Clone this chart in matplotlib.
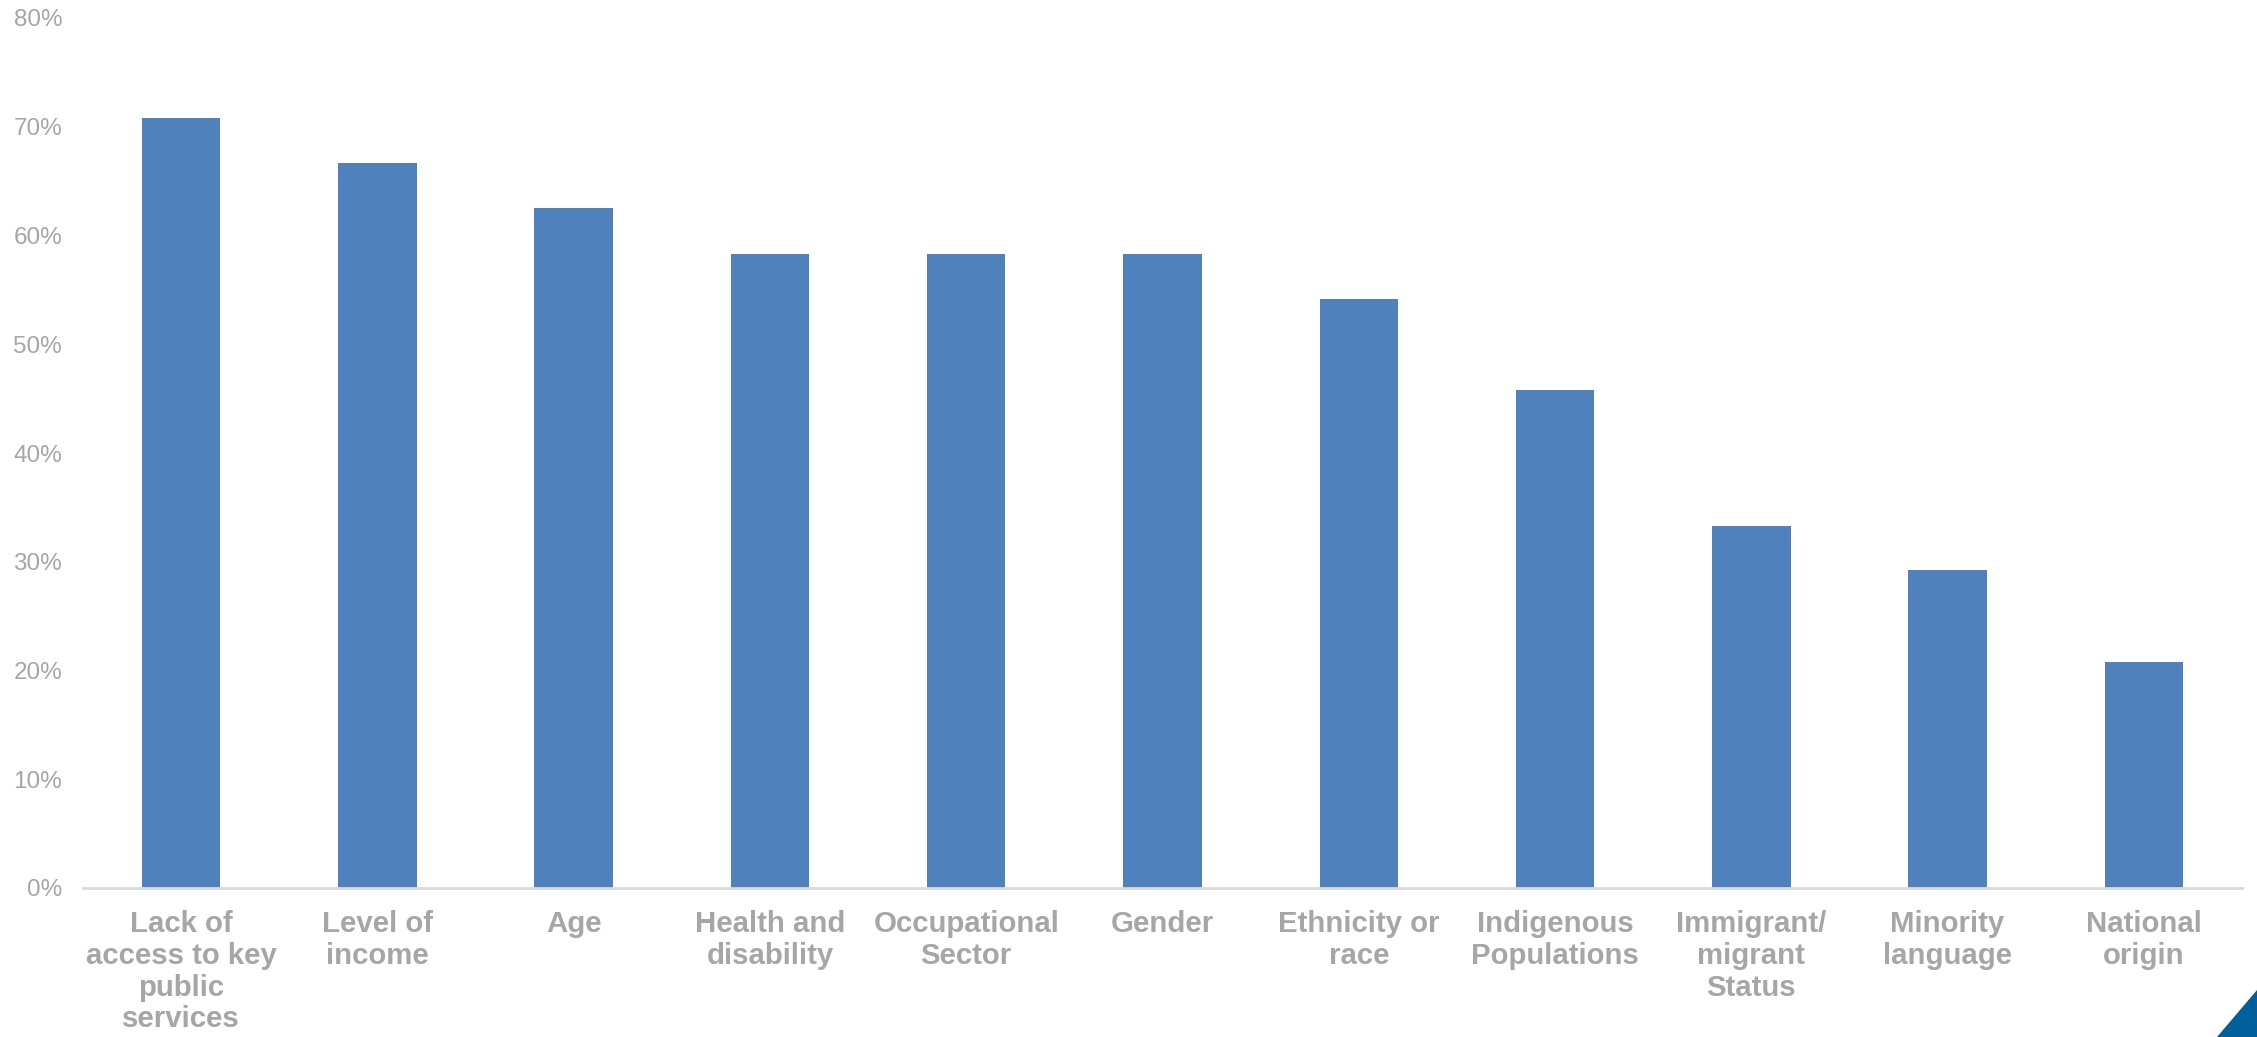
import matplotlib
matplotlib.use("Agg")
import matplotlib.pyplot as plt
from matplotlib.patches import Polygon
from matplotlib.ticker import PercentFormatter

categories = [
    "Lack of\naccess to key\npublic\nservices",
    "Level of\nincome",
    "Age",
    "Health and\ndisability",
    "Occupational\nSector",
    "Gender",
    "Ethnicity or\nrace",
    "Indigenous\nPopulations",
    "Immigrant/\nmigrant\nStatus",
    "Minority\nlanguage",
    "National\norigin",
]
values = [70.8, 66.7, 62.5, 58.3, 58.3, 58.3, 54.2, 45.8, 33.3, 29.2, 20.8]
y_ticks = [0, 10, 20, 30, 40, 50, 60, 70, 80]

W, H = 2257, 1037
fig = plt.figure(figsize=(W / 100, H / 100), dpi=100)
ax = fig.add_axes([83 / W, 1 - 888 / H, (2242 - 83) / W, (888 - 18) / H])

plt.rcParams['font.family'] = ['Liberation Sans', 'DejaVu Sans']

x = list(range(len(categories)))
ax.bar(x, values, width=0.4, color="#4F81BD", zorder=2)
ax.set_xlim(-0.5, len(categories) - 0.5)
ax.set_ylim(0, 80)
ax.set_yticks(y_ticks)
ax.yaxis.set_major_formatter(PercentFormatter(decimals=0))
ax.set_xticks(x)
ax.set_xticklabels(categories, fontsize=21.2, fontweight="bold", color="#A6A6A6",
                   family=['Liberation Sans', 'DejaVu Sans'], linespacing=1.17)
for lab in ax.get_yticklabels():
    lab.set_family(['Liberation Sans', 'DejaVu Sans'])
ax.tick_params(axis="y", length=0, pad=15, labelsize=17.5, labelcolor="#A6A6A6")
ax.tick_params(axis="x", length=0, pad=16)

for s in ["top", "right", "left"]:
    ax.spines[s].set_visible(False)
ax.spines["bottom"].set_color("#D9D9D9")
ax.spines["bottom"].set_linewidth(2)

tri = Polygon([[2217 / W, 0], [1, 0], [1, 1 - 990 / H]], closed=True,
              transform=fig.transFigure, facecolor="#00609C", edgecolor="none")
fig.patches.append(tri)

fig.savefig("out.png", dpi=100)
